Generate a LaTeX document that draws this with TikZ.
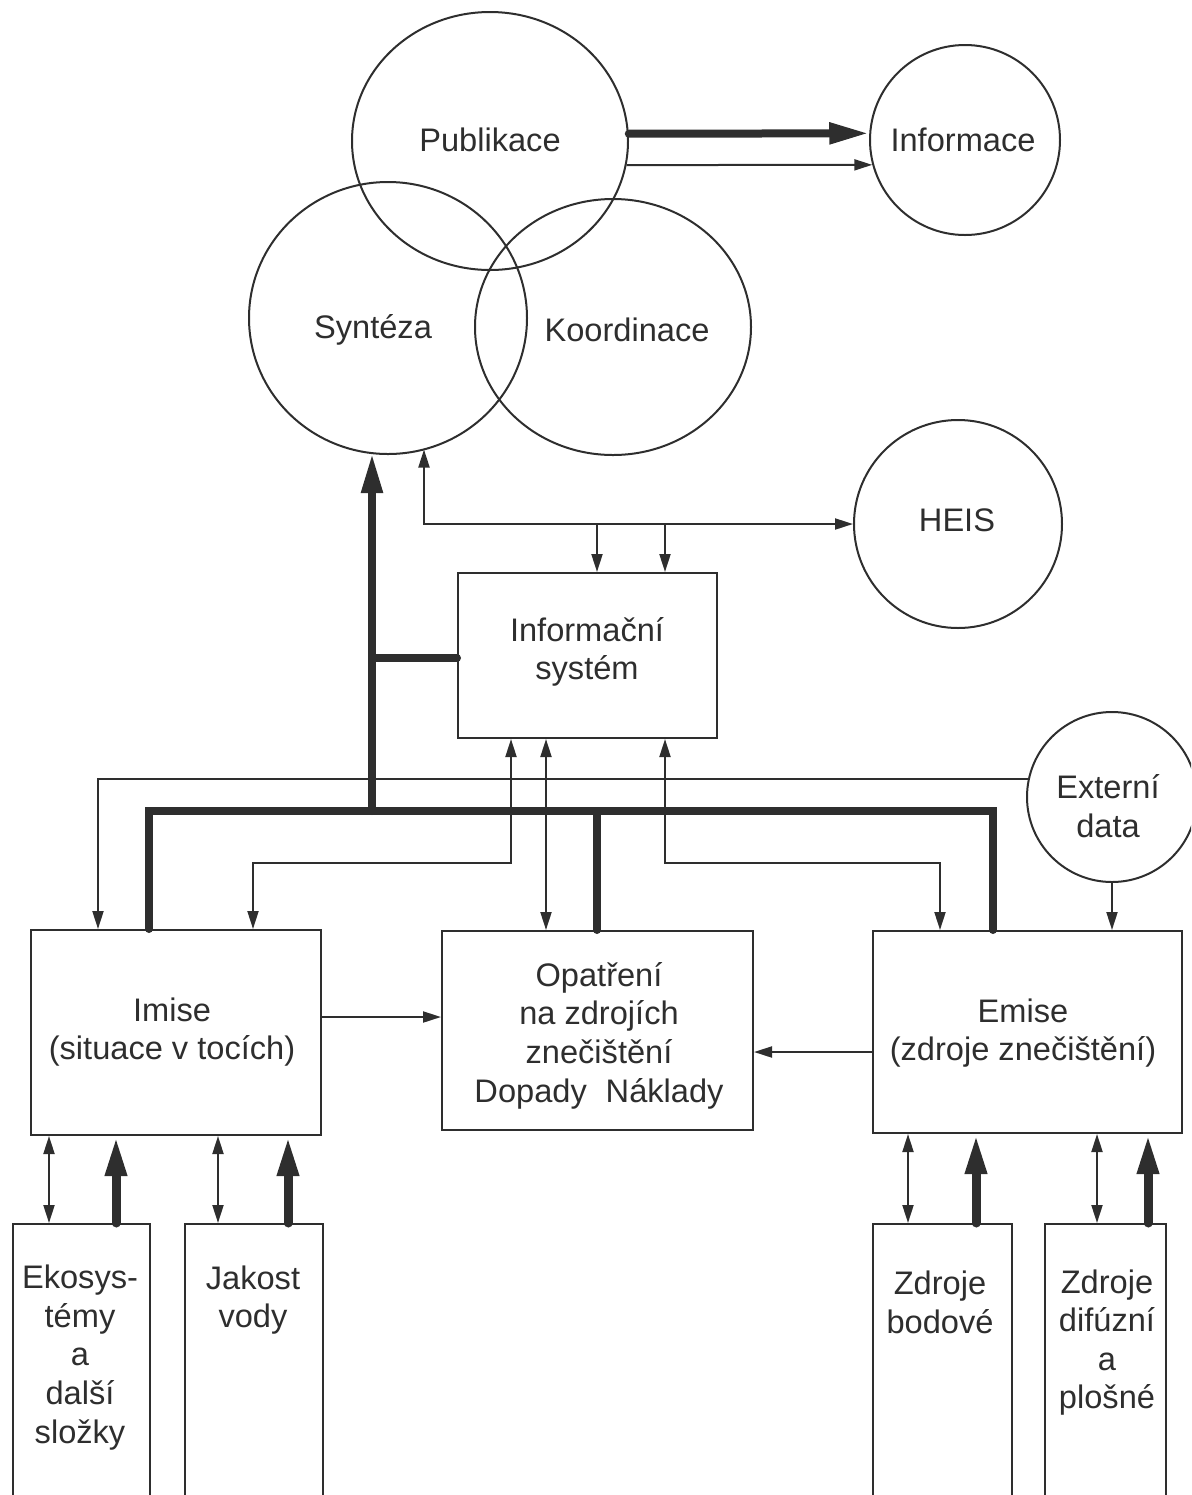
\documentclass[tikz,border=0pt]{standalone}
\usepackage{fontspec}
\setmainfont{Liberation Sans}
\usetikzlibrary{arrows.meta,shapes.geometric}
\definecolor{ink}{HTML}{2E2E2E}
\begin{document}
\begin{tikzpicture}[x=0.5pt,y=-0.5pt,
  lbl/.style={font=\fontsize{16.3pt}{19.3pt}\selectfont, align=center, inner sep=0pt, text=ink},
  circ/.style={draw=ink, line width=1pt, ellipse, inner sep=0pt},
  box/.style={draw=ink, line width=1pt, rectangle, inner sep=0pt},
  thinln/.style={draw=ink, line width=1pt},
  thinarr/.style={thinln, -{Triangle[length=9pt,width=5.5pt]}},
  dblarr/.style={thinln, {Triangle[length=9pt,width=5.5pt]}-{Triangle[length=9pt,width=5.5pt]}},
  thickln/.style={draw=ink, line width=4pt, line cap=round},
  thickarr/.style={draw=ink, line width=4pt, line cap=round, -{Triangle[length=20pt,width=10pt]}},
  botarr/.style={draw=ink, line width=4.5pt, line cap=round, -{Triangle[length=20pt,width=10pt]}},
]
\useasboundingbox (0,0) rectangle (1191,1495);
\clip (0,0) rectangle (1191,1495);

% circles
\node[circ, minimum width=138pt, minimum height=129pt] (pub) at (490,141) {};
\node[circ, minimum width=139pt, minimum height=136pt] (syn) at (388,318) {};
\node[circ, minimum width=138pt, minimum height=128pt] (koo) at (613,327) {};
\node[circ, minimum width=95pt, minimum height=95pt] (inf) at (965,140) {};
\node[circ, minimum width=104pt, minimum height=104pt] (heis) at (958,524) {};
\node[circ, minimum width=85pt, minimum height=85pt] (ext) at (1112,797) {};

\node[lbl] (pubT) at (490,140) {Publikace};
\node[lbl] (synT) at (373,330) {Syntéza};
\node[lbl] (kooT) at (627,330) {Koordinace};
\node[lbl] (infT) at (963,140) {Informace};
\node[lbl] (heisT) at (957,520) {HEIS};
\node[lbl] (extT) at (1108,806) {Externí\\data};

% boxes
\node[box, minimum width=129.5pt, minimum height=82.5pt] (info) at (587.5,655.5) {};
\node[lbl] (infoT) at (587,652) {Informační\\systém};
\node[box, minimum width=145pt, minimum height=102.5pt] (imise) at (176,1032.5) {};
\node[lbl] (imiseT) at (172,1032) {Imise\\(situace v tocích)};
\node[box, minimum width=155.5pt, minimum height=99.5pt] (opat) at (597.5,1030.5) {};
\node[lbl] (opatT) at (599,1035.5) {Opatření\\na zdrojích\\znečištění\\Dopady\hspace{0.58em}Náklady};
\node[box, minimum width=154.5pt, minimum height=101pt] (emise) at (1027.5,1032) {};
\node[lbl] (emiseT) at (1023,1033) {Emise\\(zdroje znečištění)};

% bottom boxes (open below the page)
\node[box, minimum width=68.5pt, minimum height=158.5pt] (eko) at (81.5,1382.5) {};
\node[box, minimum width=69pt, minimum height=158.5pt] (jak) at (254,1382.5) {};
\node[box, minimum width=69.5pt, minimum height=158.5pt] (bod) at (942.5,1382.5) {};
\node[box, minimum width=60.5pt, minimum height=158.5pt] (dif) at (1105.5,1382.5) {};
\node[lbl] (ekoT) at (80,1357.5) {Ekosys-\\témy\\a\\další\\složky};
\node[lbl] (jakT) at (253,1300) {Jakost\\vody};
\node[lbl] (bodT) at (940,1302.5) {Zdroje\\bodové};
\node[lbl] (difT) at (1107,1342.5) {Zdroje\\difúzní\\a\\plošné};

% helper coordinates
\coordinate (synThick) at (372,453);
\coordinate (synThin) at (424,449.5);
\coordinate (busL) at (149,811);
\coordinate (busM) at (372,811);
\coordinate (busO) at (597,811);
\coordinate (busR) at (993,811);
\coordinate (brI) at (372,658);
\coordinate (dA) at (597,0);
\coordinate (dB) at (665,0);
\coordinate (bA) at (253,863);
\coordinate (bB) at (511,863);
\coordinate (bC) at (665,863);
\coordinate (bD) at (940,863);
\coordinate (bE) at (546,0);
\coordinate (bF) at (98,0);
\coordinate (yA) at (0,1017);
\coordinate (yB) at (0,1052);

% Publikace -> Informace
\draw[thickarr] (pub.3.3) -- (inf.176);
\draw[thinarr] (pub.-10) -- (inf.195);

% HEIS line
\draw[dblarr] (synThin) |- (heis.west);
\draw[thinarr] (heis.west -| dA) -- (info.north -| dA);
\draw[thinarr] (heis.west -| dB) -- (info.north -| dB);

% thick structure
\draw[thickarr] (busM) -- (synThick);
\draw[thickln] (brI) -- (info.west |- brI);
\draw[thickln, line join=miter] (imise.north -| busL) -- (busL) -- (busR) -- (emise.north -| busR);
\draw[thickln] (busO) -- (opat.north -| busO);

% externi data
\draw[thinarr] (ext.168) -| (imise.north -| bF);
\draw[thinarr] (ext.south) -- (emise.north -| ext.south);

% thin links to Informacni system
\draw[dblarr] (imise.north -| bA) -- (bA) -- (bB) -- (info.south -| bB);
\draw[dblarr] (info.south -| bE) -- (opat.north -| bE);
\draw[dblarr] (info.south -| bC) -- (bC) -- (bD) -- (emise.north -| bD);

% horizontal links to Opatreni
\draw[thinarr] (imise.east |- yA) -- (opat.west |- yA);
\draw[thinarr] (emise.west |- yB) -- (opat.east |- yB);

% bottom links
\coordinate (e1) at (49,0);
\coordinate (e2) at (116,0);
\coordinate (j1) at (218,0);
\coordinate (j2) at (288,0);
\coordinate (b1) at (908,0);
\coordinate (b2) at (976,0);
\coordinate (d1) at (1097,0);
\coordinate (d2) at (1148,0);
\draw[dblarr] (eko.north -| e1) -- (imise.south -| e1);
\draw[botarr] (eko.north -| e2) -- (imise.south -| e2);
\draw[dblarr] (jak.north -| j1) -- (imise.south -| j1);
\draw[botarr] (jak.north -| j2) -- (imise.south -| j2);
\draw[dblarr] (bod.north -| b1) -- (emise.south -| b1);
\draw[botarr] (bod.north -| b2) -- (emise.south -| b2);
\draw[dblarr] (dif.north -| d1) -- (emise.south -| d1);
\draw[botarr] (dif.north -| d2) -- (emise.south -| d2);
\end{tikzpicture}
\end{document}
